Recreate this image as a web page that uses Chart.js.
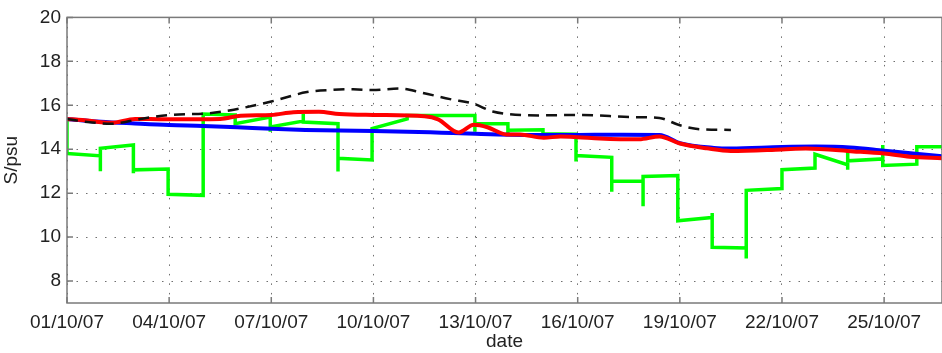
<!DOCTYPE html>
<html>
<head>
<meta charset="utf-8">
<script src="https://cdn.jsdelivr.net/npm/chart.js@4.4.1/dist/chart.umd.min.js"></script>
<style>
  html, body { margin: 0; padding: 0; background: #fff; }
</style>
</head>
<body>
<canvas id="salinity" width="942" height="353"></canvas>
<script>
// x = days since 01/10/07
const tickDays = [0, 3, 6, 9, 12, 15, 18, 21, 24];
const tickLabels = ['01/10/07', '04/10/07', '07/10/07', '10/10/07', '13/10/07',
                    '16/10/07', '19/10/07', '22/10/07', '25/10/07'];
const yTicks = [8, 10, 12, 14, 16, 18, 20];

// black dashed series
const dashedPts = [[0, 15.38], [0.6, 15.24], [1.3, 15.16], [2.15, 15.38], [3.03, 15.56],
  [4.2, 15.64], [4.9, 15.8], [5.7, 16.06], [6.0, 16.17], [7.05, 16.6], [7.8, 16.7],
  [8.4, 16.73], [8.96, 16.69], [9.8, 16.76], [10.4, 16.58], [11.25, 16.28], [11.96, 16.06],
  [12.5, 15.72], [13.9, 15.54], [15.15, 15.56], [16.6, 15.46], [17.4, 15.42], [18.0, 15.09],
  [18.6, 14.91], [19.5, 14.88]];

// red series
const redPts = [[0, 15.38], [0.45, 15.33], [1.3, 15.2], [2.0, 15.38], [2.9, 15.36],
  [4.5, 15.38], [5.1, 15.52], [6.0, 15.56], [6.65, 15.68], [7.4, 15.7], [8.0, 15.6],
  [9.0, 15.56], [10.5, 15.5], [10.9, 15.36], [11.5, 14.76], [11.95, 15.11], [12.35, 15.0],
  [12.9, 14.67], [13.3, 14.67], [14.0, 14.52], [14.5, 14.58], [15.0, 14.55], [15.65, 14.49],
  [16.8, 14.45], [17.4, 14.58], [18.0, 14.26], [18.8, 14.04], [19.5, 13.92], [21.0, 13.99],
  [21.7, 14.03], [23.1, 13.9], [24.0, 13.8], [24.75, 13.66], [25.7, 13.59]];

// blue series
const bluePts = [[0, 15.38], [1, 15.25], [2, 15.17], [3, 15.1], [4, 15.06], [5, 15.0],
  [6, 14.93], [7, 14.88], [8, 14.85], [9, 14.83], [10, 14.8], [11, 14.75], [12, 14.7],
  [13, 14.66], [14, 14.65], [15, 14.65], [16, 14.66], [17.4, 14.65], [18, 14.28],
  [19, 14.06], [19.5, 14.03], [21, 14.1], [22, 14.12], [23, 14.08], [24, 13.93],
  [25, 13.78], [25.7, 13.68]];

// green stepped series (repeated days = vertical jumps)
const greenPts = [[0, 15.45], [0, 13.8], [0.98, 13.7], [0.98, 13.0], [0.98, 14.04],
  [1.95, 14.19], [1.95, 12.91], [1.95, 13.06], [2.97, 13.1], [2.97, 11.87], [2.97, 11.95],
  [4.0, 11.9], [4.0, 15.6], [4.94, 15.56], [4.94, 15.16], [5.97, 15.46], [5.97, 14.79],
  [5.97, 15.01], [6.94, 15.28], [6.94, 15.6], [6.94, 15.24], [7.96, 15.16], [7.96, 12.99],
  [7.96, 13.59], [8.96, 13.51], [8.96, 14.94], [9.99, 15.38], [9.99, 15.54], [11.98, 15.54],
  [11.98, 14.79], [11.98, 15.16], [12.95, 15.16], [12.95, 14.71], [12.95, 14.86],
  [13.98, 14.89], [13.98, 14.7], [14.95, 14.68], [14.95, 13.44], [14.95, 13.71],
  [16.0, 13.63], [16.0, 12.06], [16.0, 12.54], [16.92, 12.54], [16.92, 11.4], [16.92, 12.76],
  [17.94, 12.8], [17.94, 10.67], [17.94, 10.74], [18.95, 10.89], [18.95, 11.1], [18.95, 9.47],
  [18.95, 9.54], [19.95, 9.5], [19.95, 9.02], [19.95, 12.13], [21.0, 12.21], [21.0, 13.07],
  [21.97, 13.14], [21.97, 13.77], [22.93, 13.29], [22.93, 13.06], [22.93, 13.96],
  [22.93, 13.47], [23.96, 13.56], [23.96, 14.19], [23.96, 13.18], [23.96, 13.26],
  [24.96, 13.32], [24.96, 14.11], [25.8, 14.11]];

const toXY = pts => pts.map(p => ({ x: p[0], y: p[1] }));

Chart.defaults.font.family = "'Liberation Sans', Arial, sans-serif";
Chart.defaults.font.size = 19;
Chart.defaults.color = '#222';

// matlab style box with inward tick marks
const boxPlugin = {
  id: 'box',
  afterDatasetsDraw(chart) {
    const { ctx, chartArea: a, scales: { x, y } } = chart;
    ctx.save();
    ctx.strokeStyle = '#7a7a7a';
    ctx.lineWidth = 1.5;
    ctx.strokeRect(a.left, a.top, a.right - a.left, a.bottom - a.top);
    ctx.beginPath();
    x.ticks.forEach(t => {
      const px = x.getPixelForValue(t.value);
      ctx.moveTo(px, a.bottom); ctx.lineTo(px, a.bottom - 6);
      ctx.moveTo(px, a.top); ctx.lineTo(px, a.top + 6);
    });
    y.ticks.forEach(t => {
      const py = y.getPixelForValue(t.value);
      ctx.moveTo(a.left, py); ctx.lineTo(a.left + 6, py);
    });
    ctx.stroke();
    ctx.restore();
  }
};

new Chart(document.getElementById('salinity'), {
  type: 'line',
  data: {
    datasets: [
      { data: toXY(dashedPts), borderColor: '#111', borderWidth: 2.5, borderDash: [11, 7],
        cubicInterpolationMode: 'monotone' },
      { data: toXY(redPts), borderColor: '#ff0000', borderWidth: 4,
        cubicInterpolationMode: 'monotone' },
      { data: toXY(bluePts), borderColor: '#0000ff', borderWidth: 4,
        cubicInterpolationMode: 'monotone' },
      { data: toXY(greenPts), borderColor: '#00ff00', borderWidth: 3.5, tension: 0 }
    ]
  },
  options: {
    responsive: false,
    animation: false,
    layout: { padding: { top: 14, right: 0, left: 0, bottom: 0 } },
    elements: { point: { radius: 0 }, line: { borderCapStyle: 'butt', borderJoinStyle: 'miter' } },
    plugins: { legend: { display: false }, tooltip: { enabled: false } },
    scales: {
      x: {
        type: 'linear',
        min: 0,
        max: 25.7,
        afterFit: s => { s.height = 50; },
        afterBuildTicks: s => { s.ticks = tickDays.map(v => ({ value: v })); },
        ticks: {
          padding: 8,
          maxRotation: 0,
          callback: v => tickLabels[tickDays.indexOf(v)]
        },
        grid: { color: '#6f6f6f', lineWidth: 1, drawTicks: false },
        border: { display: false, dash: [1.5, 8] },
        title: { display: true, text: 'date', padding: { top: 0, bottom: 0 } }
      },
      y: {
        min: 7,
        max: 20,
        afterFit: s => { s.width = 67; },
        afterBuildTicks: s => { s.ticks = yTicks.map(v => ({ value: v })); },
        ticks: { padding: 6 },
        grid: { color: '#6f6f6f', lineWidth: 1, drawTicks: false },
        border: { display: false, dash: [1.5, 8] },
        title: { display: true, text: 'S/psu', padding: { top: 0, bottom: 6 } }
      }
    }
  },
  plugins: [boxPlugin]
});
</script>
</body>
</html>
